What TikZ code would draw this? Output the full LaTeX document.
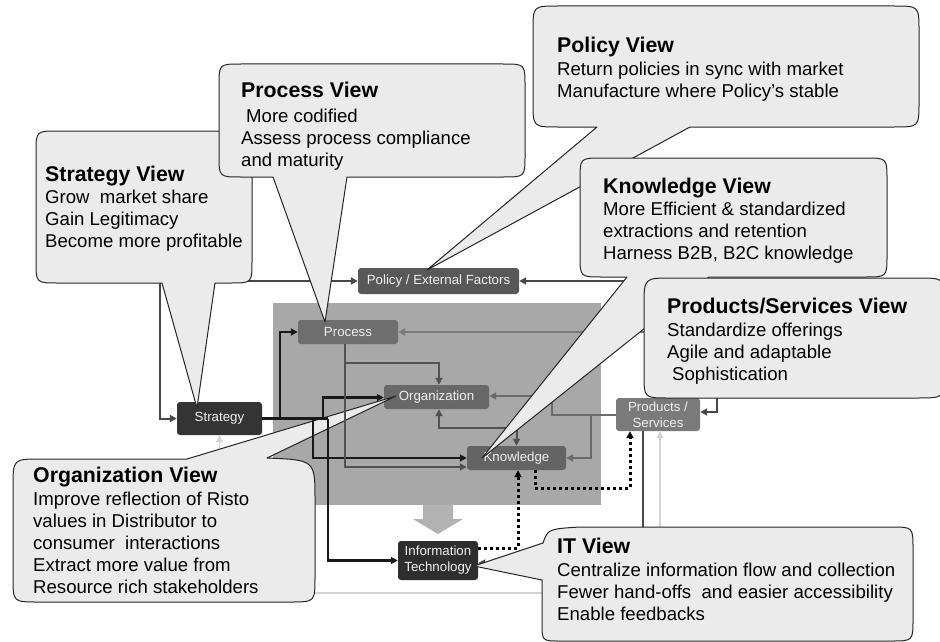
\documentclass[tikz,border=0pt]{standalone}
\usepackage{fontspec}
\setmainfont{Liberation Sans}
\usetikzlibrary{arrows.meta,calc}

\definecolor{calloutfill}{HTML}{EBEBEB}
\definecolor{calloutline}{HTML}{262626}
\definecolor{coregray}{HTML}{A8A8A8}
\definecolor{bigarrow}{HTML}{B2B2B2}
\definecolor{stratfill}{HTML}{343434}
\definecolor{policyfill}{HTML}{585858}
\definecolor{processfill}{HTML}{6E6E6E}
\definecolor{orgfill}{HTML}{686868}
\definecolor{knowfill}{HTML}{646464}
\definecolor{prodfill}{HTML}{7A7A7A}
\definecolor{itfill}{HTML}{2E2E2E}

\pgfdeclarelayer{bg}
\pgfdeclarelayer{fg}
\pgfsetlayers{bg,main,fg}

\tikzset{
  cbox/.style={rectangle, rounded corners=3pt, inner sep=0pt, align=center,
    text=white!94!black, font=\fontsize{13.3}{16}\selectfont},
  callout/.style={fill=calloutfill, draw=calloutline, line width=1pt, line join=round},
  vtitle/.style={anchor=base west, inner sep=0pt, font=\bfseries\fontsize{21.3}{25}\selectfont},
  vbody/.style={anchor=base west, inner sep=0pt, font=\fontsize{18.6}{22}\selectfont},
  blk/.style={draw=black!90, line width=2.4pt, ->},
  blkline/.style={draw=black!90, line width=2.4pt},
  gry/.style={draw=black!68, line width=2pt, ->},
  mgry/.style={draw=black!58, line width=2pt, ->},
  lgry/.style={draw=black!52, line width=2pt, ->},
  dgry/.style={draw=black!72, line width=2pt},
  dotline/.style={draw=black, line width=3pt, dash pattern=on 3pt off 3pt, ->},
  feedback/.style={draw=black!17, line width=1.3pt},
}

\begin{document}
\begin{tikzpicture}[x=1pt, y=-1pt, >={Triangle[length=7pt,width=7pt]}]
\useasboundingbox (0,0) rectangle (940,642);

% ---------- boxes ----------
\node[cbox, fill=stratfill,   minimum width=85pt,  minimum height=33pt] (strategy)     at (219.5,418.5) {Strategy};
\node[cbox, fill=policyfill,  minimum width=161pt, minimum height=26pt] (policy)       at (438.5,281)   {Policy / External Factors};
\node[cbox, fill=processfill, minimum width=100pt, minimum height=24pt] (process)      at (348,332)     {Process};
\node[cbox, fill=orgfill,     minimum width=105pt, minimum height=24pt] (organization) at (436.5,397)   {Organization};
\node[cbox, fill=knowfill,    minimum width=99pt,  minimum height=24pt] (knowledge)    at (516.5,458)   {Knowledge};
\node[cbox, fill=prodfill,    minimum width=84pt,  minimum height=33pt] (products)     at (658,414.5)   {Products /\\Services};
\node[cbox, fill=itfill,      minimum width=80pt,  minimum height=39pt] (it)           at (438,560.5)   {Information\\Technology};

% ---------- background: core area, arrow, feedback loop, organization view ----------
\begin{pgfonlayer}{bg}
  \fill[white] (0,0) rectangle (940,642);
  \fill[coregray] (273,303) rectangle (601,505);
  \fill[bigarrow] (423,505) -- (453,505) -- (453,519) -- (463,519) -- (438,534)
                  -- (413,519) -- (423,519) -- cycle;
  \draw[feedback,<->] (strategy.south) |- (660,593) -- ($(products.south)+(2,0)$);

  \draw[callout] (13,487) .. controls (13,459) .. (41,459) -- (187,459) -- (396,396)
     -- (267,458) .. controls (315,460) .. (315,500) -- (315,577)
     .. controls (315,602) .. (290,602) -- (38,602) .. controls (13,602) .. (13,577) -- cycle;
  \node[vtitle] (ovtitle) at (33,482) {Organization View};
  \node[vbody] (ovbody) at (33,505) {\begin{tabular}[t]{@{}l@{}}
      Improve reflection of Risto\\
      values in Distributor to\\
      consumer\ \ interactions\\
      Extract more value from\\
      Resource rich stakeholders\end{tabular}};
\end{pgfonlayer}

% ---------- connectors ----------
\draw[blkline] (strategy.east) -- (328,418.5);
\draw[blk] (strategy.east) -- (280,418.5) |- (process.west);
\draw[blk] (323,418.5) |- ($(organization.west)+(0,0.5)$);
\draw[blk] (328,418.5) |- (it.west);
\draw[blk] (313,418.5) |- (knowledge.west);

\draw[gry] ($(process.south)+(-3,0)$) |- ($(knowledge.west)+(0,9)$);
\draw[gry] (345,363) -| ($(organization.north)+(2.5,0)$);
\draw[gry,<->] ($(organization.south)+(2.5,0)$) |- (516.5,428) -- (knowledge.north);

\draw[mgry] (products.west) -- (552,414.5) |- ($(organization.east)+(0,-1)$);
\draw[mgry] (591,414.5) |- (knowledge.east);
\draw[lgry] ($(products.north)+(2,0)$) |- (process.east);
\draw[dgry,<->] (policy.east) -| (717,412) -- ($(products.east)+(0,-2.5)$);
\draw[dgry,<->] (policy.west) -- (160,281) |- (strategy.west);
\draw[dgry,->] ($(products.south)+(-15,0)$) |- ($(it.east)+(0,2.5)$);

\draw[dotline] ($(it.east)+(0,-12.5)$) -| ($(knowledge.south)+(1.5,0)$);
\draw[dotline] ($(knowledge.south)+(18.5,0)$) |- (630,488) -- ($(products.south)+(-28,0)$);

% ---------- view callouts ----------
\begin{pgfonlayer}{fg}
  % tip of the organization view pointer, lying over its box
  \begin{scope}
    \clip (organization.north west) rectangle (organization.south east);
    \draw[callout] (396,396) -- (187,459) -- (267,458) -- cycle;
  \end{scope}

  % strategy view
  \draw[callout] (36,153) .. controls (36,131) .. (58,131) -- (230,131)
     .. controls (252,131) .. (252,153) -- (252,261) .. controls (252,283) .. (230,283)
     -- (215,283) -- (197,408) -- (162,283) -- (58,283) .. controls (36,283) .. (36,261) -- cycle;
  \node[vtitle] (svtitle) at (45,181) {Strategy View};
  \node[vbody] (svbody) at (45,203) {\begin{tabular}[t]{@{}l@{}}
      Grow\ \ market share\\
      Gain Legitimacy\\
      Become more profitable\end{tabular}};

  % process view
  \draw[callout] (219,86) .. controls (219,64) .. (241,64) -- (503,64)
     .. controls (525,64) .. (525,86) -- (525,155) .. controls (525,177) .. (503,177)
     -- (347,177) -- (325,322) -- (273,177) -- (241,177) .. controls (219,177) .. (219,155) -- cycle;
  \node[vtitle] (pvtitle) at (241,97) {Process View};
  \node[vbody] (pvbody) at (241,122) {\begin{tabular}[t]{@{}l@{}}
      \hspace{5pt}More codified\\
      Assess process compliance\\
      and maturity\end{tabular}};

  % policy view
  \draw[callout] (533,31) .. controls (533,6) .. (558,6) -- (894,6)
     .. controls (919,6) .. (919,31) -- (919,102) .. controls (919,127) .. (894,127)
     -- (690,127) -- (427,270) -- (597,127) -- (558,127) .. controls (533,127) .. (533,102) -- cycle;
  \node[vtitle] (potitle) at (557,53) {Policy View};
  \node[vbody] (pobody) at (557,76) {\begin{tabular}[t]{@{}l@{}}
      Return policies in sync with market\\
      Manufacture where Policy's stable\end{tabular}};

  % knowledge view
  \draw[callout] (580,180) .. controls (580,158) .. (602,158) -- (865,158)
     .. controls (887,158) .. (887,180) -- (887,255) .. controls (887,277) .. (865,277)
     -- (709,277) -- (482,458) -- (627,277) -- (602,277) .. controls (580,277) .. (580,255) -- cycle;
  \node[vtitle] (kvtitle) at (603,193) {Knowledge View};
  \node[vbody] (kvbody) at (603,215) {\begin{tabular}[t]{@{}l@{}}
      More Efficient \& standardized\\
      extractions and retention\\
      Harness B2B, B2C knowledge\end{tabular}};

  % products / services view
  \draw[callout] (644,306) .. controls (644,278) .. (672,278) -- (917,278)
     .. controls (945,278) .. (945,306) -- (945,370) .. controls (945,398) .. (917,398)
     -- (668,398) .. controls (644,398) .. (644,374) -- cycle;
  \node[vtitle] (psvtitle) at (667,313) {Products/Services View};
  \node[vbody] (psvbody) at (667,336) {\begin{tabular}[t]{@{}l@{}}
      Standardize offerings\\
      Agile and adaptable\\
      \hspace{5pt}Sophistication\end{tabular}};

  % information technology view
  \draw[callout] (580,527) -- (891,527) .. controls (913,527) .. (913,549) -- (913,619)
     .. controls (913,641) .. (891,641) -- (560,641) .. controls (542,641) .. (542,623)
     -- (542,580) -- (474,566) -- (543,543) .. controls (548,529) .. (580,527) -- cycle;
  \node[vtitle] (ittitle) at (557,553) {IT View};
  \node[vbody] (itbody) at (557,576) {\begin{tabular}[t]{@{}l@{}}
      Centralize information flow and collection\\
      Fewer hand-offs\ \ and easier accessibility\\
      Enable feedbacks\end{tabular}};
\end{pgfonlayer}
\end{tikzpicture}
\end{document}
